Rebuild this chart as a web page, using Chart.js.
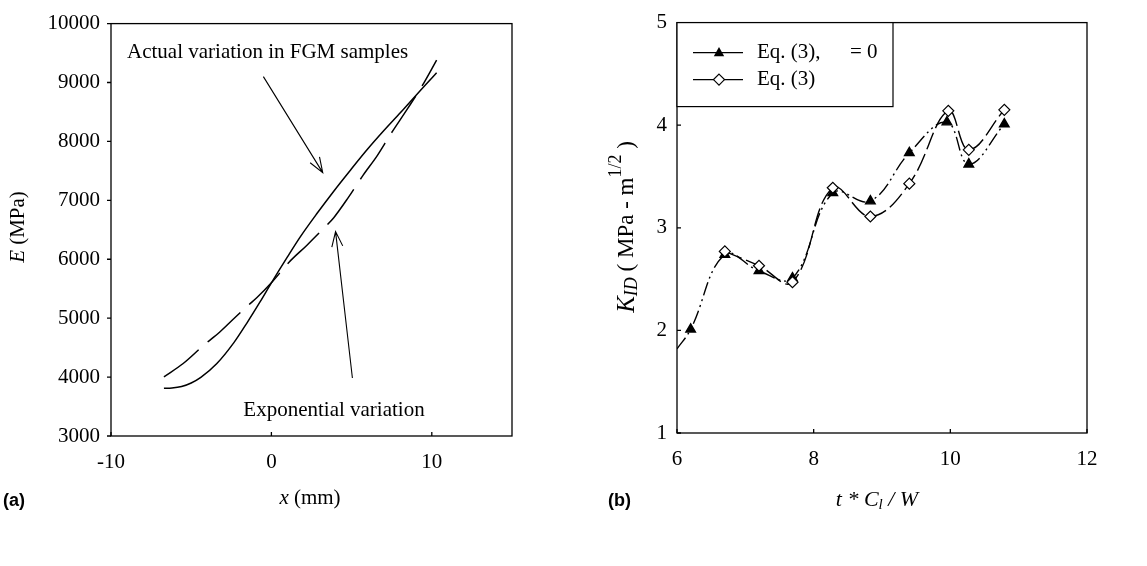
<!DOCTYPE html>
<html>
<head>
<meta charset="utf-8">
<script src="https://cdn.jsdelivr.net/npm/chart.js@4"></script>
<style>
  html, body { margin: 0; padding: 0; background: #fff; }
  #wrap { position: relative; width: 1147px; height: 566px; }
  #left { position: absolute; left: 0; top: 0; }
  #right { position: absolute; left: 580px; top: 0; }
</style>
</head>
<body>
<div id="wrap">
  <canvas id="left" width="580" height="566"></canvas>
  <canvas id="right" width="567" height="566"></canvas>
</div>
<script>
// (a) modulus across the sample, x in mm, E in MPa
const actualX = [-6.7, -6.2, -5.6, -5.0, -4.4, -3.4, -2.35, -1.5, -0.7, 0, 1.0, 1.8, 2.85, 3.9, 4.95, 6.0, 7.0, 8.05, 9.5, 10.3];
const actualE = [3810, 3815, 3840, 3900, 3995, 4230, 4580, 4930, 5280, 5600, 6040, 6380, 6780, 7160, 7520, 7870, 8180, 8490, 8930, 9165];
const expX = [-6.7, -5.5, -4.2, -3.2, -2.35, -1.5, -0.9, 0, 1.1, 2.2, 3.1, 3.9, 4.8, 5.7, 6.6, 7.45, 8.5, 9.5, 10.3];
const expE = [4005, 4230, 4545, 4770, 4990, 5205, 5350, 5600, 5950, 6235, 6480, 6710, 7050, 7420, 7760, 8130, 8560, 8990, 9380];
const xTicksA = [-10, 0, 10];
const yTicksA = [3000, 4000, 5000, 6000, 7000, 8000, 9000, 10000];

// (b) dynamic stress intensity factor vs normalised time
const triX = [6.0, 6.2, 6.7, 7.2, 7.69, 8.28, 8.83, 9.4, 9.95, 10.27, 10.79];
const triK = [1.82, 2.01, 2.74, 2.58, 2.51, 3.34, 3.26, 3.73, 4.03, 3.62, 4.01];
const diaX = [6.7, 7.2, 7.69, 8.28, 8.83, 9.4, 9.97, 10.27, 10.79];
const diaK = [2.77, 2.63, 2.47, 3.39, 3.11, 3.43, 4.14, 3.76, 4.15];
const xTicksB = [6, 8, 10, 12];
const yTicksB = [1, 2, 3, 4, 5];

const SERIF = "'Liberation Serif', 'Times New Roman', serif";
const SANS = "'Liberation Sans', Arial, sans-serif";
const tickFont = { family: SERIF, size: 21 };

// draws a run of differently styled text pieces centred on (cx, cy)
function richText(ctx, parts, cx, cy, rotate) {
  ctx.save();
  ctx.translate(cx, cy);
  if (rotate) ctx.rotate(-Math.PI / 2);
  ctx.textBaseline = 'middle';
  ctx.fillStyle = '#000';
  let total = 0;
  parts.forEach(p => { ctx.font = p.font; total += ctx.measureText(p.text).width; });
  let x = -total / 2;
  parts.forEach(p => {
    ctx.font = p.font;
    ctx.fillText(p.text, x, p.dy || 0);
    x += ctx.measureText(p.text).width;
  });
  ctx.restore();
}

function arrow(ctx, x1, y1, x2, y2) {
  const a = Math.atan2(y2 - y1, x2 - x1);
  const len = 16, spread = 0.35;
  ctx.beginPath();
  ctx.moveTo(x1, y1);
  ctx.lineTo(x2, y2);
  ctx.moveTo(x2 - len * Math.cos(a - spread), y2 - len * Math.sin(a - spread));
  ctx.lineTo(x2, y2);
  ctx.lineTo(x2 - len * Math.cos(a + spread), y2 - len * Math.sin(a + spread));
  ctx.stroke();
}

function frameAndTicks(chart, outwardY, xt, yt) {
  const { ctx, chartArea: ca, scales } = chart;
  ctx.save();
  ctx.strokeStyle = '#000';
  ctx.lineWidth = 1.3;
  ctx.strokeRect(ca.left, ca.top, ca.right - ca.left, ca.bottom - ca.top);
  ctx.beginPath();
  xt.forEach(v => {
    const px = scales.x.getPixelForValue(v);
    ctx.moveTo(px, ca.bottom);
    ctx.lineTo(px, ca.bottom - 4);
  });
  yt.forEach(v => {
    const py = scales.y.getPixelForValue(v);
    ctx.moveTo(ca.left, py);
    ctx.lineTo(outwardY ? ca.left - 4 : ca.left + 4, py);
  });
  ctx.stroke();
  ctx.restore();
}

const decorA = {
  id: 'decorA',
  afterDraw(chart) {
    const { ctx, scales: { x, y } } = chart;
    frameAndTicks(chart, true, xTicksA, yTicksA);
    ctx.save();
    ctx.strokeStyle = '#000';
    ctx.lineWidth = 1.1;
    ctx.fillStyle = '#000';
    ctx.font = '21px ' + SERIF;
    ctx.textBaseline = 'middle';
    ctx.fillText('Actual variation in FGM samples', x.getPixelForValue(-9.0), y.getPixelForValue(9517));
    arrow(ctx, x.getPixelForValue(-0.5), y.getPixelForValue(9100), x.getPixelForValue(3.2), y.getPixelForValue(7470));
    ctx.fillText('Exponential variation', x.getPixelForValue(-1.75), y.getPixelForValue(3433));
    arrow(ctx, x.getPixelForValue(5.05), y.getPixelForValue(3985), x.getPixelForValue(4.0), y.getPixelForValue(6470));
    ctx.restore();

    richText(ctx, [
      { text: 'E', font: 'italic 21px ' + SERIF },
      { text: ' (MPa)', font: '21px ' + SERIF }
    ], 18, 227, true);
    richText(ctx, [
      { text: 'x', font: 'italic 21px ' + SERIF },
      { text: ' (mm)', font: '21px ' + SERIF }
    ], 310, 498, false);
    ctx.save();
    ctx.font = 'bold 18px ' + SANS;
    ctx.textBaseline = 'middle';
    ctx.fillStyle = '#000';
    ctx.fillText('(a)', 3, 501);
    ctx.restore();
  }
};

function marker(ctx, kind, cx, cy, r) {
  ctx.beginPath();
  if (kind === 'tri') {
    ctx.moveTo(cx, cy - r);
    ctx.lineTo(cx + r * 0.95, cy + r * 0.65);
    ctx.lineTo(cx - r * 0.95, cy + r * 0.65);
    ctx.closePath();
    ctx.fillStyle = '#000';
    ctx.fill();
  } else {
    ctx.moveTo(cx, cy - r);
    ctx.lineTo(cx + r, cy);
    ctx.lineTo(cx, cy + r);
    ctx.lineTo(cx - r, cy);
    ctx.closePath();
    ctx.fillStyle = '#fff';
    ctx.fill();
    ctx.stroke();
  }
}

const decorB = {
  id: 'decorB',
  afterDraw(chart) {
    const { ctx, chartArea: ca } = chart;
    frameAndTicks(chart, false, xTicksB, yTicksB);

    // legend box
    ctx.save();
    ctx.strokeStyle = '#000';
    ctx.lineWidth = 1.2;
    ctx.fillStyle = '#fff';
    ctx.fillRect(ca.left, ca.top, 216, 84);
    ctx.strokeRect(ca.left, ca.top, 216, 84);
    const rows = [
      { kind: 'tri', y: ca.top + 30 },
      { kind: 'dia', y: ca.top + 57 }
    ];
    rows.forEach(r => {
      ctx.beginPath();
      ctx.moveTo(ca.left + 16, r.y);
      ctx.lineTo(ca.left + 66, r.y);
      ctx.stroke();
      marker(ctx, r.kind, ca.left + 42, r.y, 5.5);
    });
    ctx.fillStyle = '#000';
    ctx.font = '21px ' + SERIF;
    ctx.textBaseline = 'middle';
    ctx.fillText('Eq. (3),', ca.left + 80, rows[0].y);
    ctx.fillText('= 0', ca.left + 173, rows[0].y);
    ctx.fillText('Eq. (3)', ca.left + 80, rows[1].y);
    ctx.restore();

    richText(ctx, [
      { text: 'K', font: 'italic 25px ' + SERIF },
      { text: 'ID', font: 'italic 18px ' + SERIF, dy: 5 },
      { text: ' ( MPa - m', font: '23px ' + SERIF },
      { text: '1/2', font: '18px ' + SERIF, dy: -11 },
      { text: ' )', font: '23px ' + SERIF }
    ], 47, 227, true);
    richText(ctx, [
      { text: 't * C', font: 'italic 22px ' + SERIF },
      { text: 'l', font: 'italic 15px ' + SERIF, dy: 5 },
      { text: ' / W', font: 'italic 22px ' + SERIF }
    ], 297, 500, false);
    ctx.save();
    ctx.font = 'bold 18px ' + SANS;
    ctx.textBaseline = 'middle';
    ctx.fillStyle = '#000';
    ctx.fillText('(b)', 28, 501);
    ctx.restore();
  }
};

function axis(min, max, tickVals, pad, fitFn) {
  return {
    type: 'linear',
    min, max,
    afterBuildTicks: s => { s.ticks = tickVals.map(v => ({ value: v })); },
    afterFit: fitFn,
    grid: { display: false, drawTicks: false },
    border: { display: false },
    ticks: { font: tickFont, color: '#000', padding: pad, maxRotation: 0, callback: v => String(v) }
  };
}

new Chart(document.getElementById('left'), {
  type: 'line',
  data: {
    datasets: [
      {
        data: actualX.map((v, i) => ({ x: v, y: actualE[i] })),
        borderColor: '#000', borderWidth: 1.5, pointRadius: 0,
        cubicInterpolationMode: 'monotone', fill: false
      },
      {
        data: expX.map((v, i) => ({ x: v, y: expE[i] })),
        borderColor: '#000', borderWidth: 1.5, pointRadius: 0, borderDash: [44, 12],
        cubicInterpolationMode: 'monotone', fill: false
      }
    ]
  },
  options: {
    responsive: false,
    animation: false,
    layout: { padding: { left: 0, top: 16, right: 68, bottom: 0 } },
    plugins: { legend: { display: false }, tooltip: { enabled: false } },
    scales: {
      x: axis(-10, 15, xTicksA, 14, s => { s.height = 130; }),
      y: axis(3000, 10000, yTicksA, 11, s => { s.width = 111; })
    }
  },
  plugins: [decorA]
});

new Chart(document.getElementById('right'), {
  type: 'line',
  data: {
    datasets: [
      {
        label: 'Eq. (3)',
        data: diaX.map((v, i) => ({ x: v, y: diaK[i] })),
        borderColor: '#000', borderWidth: 1.4, borderDash: [18, 5], tension: 0.4,
        pointStyle: 'rectRot', pointRadius: 5.5, pointBorderWidth: 1.2,
        pointBackgroundColor: '#fff', pointBorderColor: '#000', fill: false
      },
      {
        label: 'Eq. (3), = 0',
        data: triX.map((v, i) => ({ x: v, y: triK[i] })),
        borderColor: '#000', borderWidth: 1.4, borderDash: [14, 4, 2, 4, 2, 4], tension: 0.4,
        pointStyle: 'triangle', pointRadius: triX.map((_, i) => (i === 0 ? 0 : 5.5)),
        pointBackgroundColor: '#000', pointBorderColor: '#000', fill: false
      }
    ]
  },
  options: {
    responsive: false,
    animation: false,
    layout: { padding: { left: 0, top: 15, right: 60, bottom: 0 } },
    plugins: { legend: { display: false }, tooltip: { enabled: false } },
    scales: {
      x: axis(6, 12, xTicksB, 14, s => { s.height = 133; }),
      y: axis(1, 5, yTicksB, 10, s => { s.width = 97; })
    }
  },
  plugins: [decorB]
});
</script>
</body>
</html>
